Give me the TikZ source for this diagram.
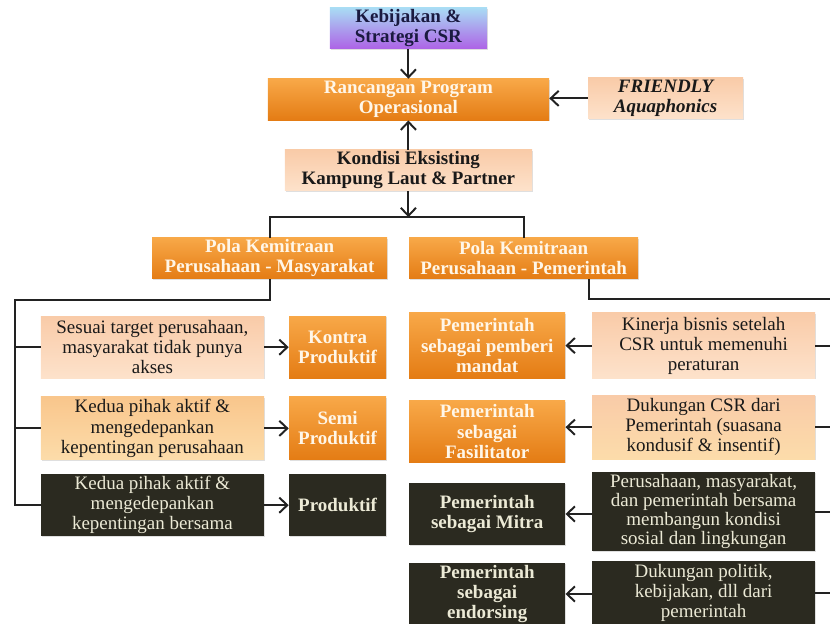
\documentclass[tikz,border=0pt]{standalone}
\usepackage{fontspec}
\setmainfont{Liberation Serif}
\usetikzlibrary{arrows.meta,positioning,shadows}
\definecolor{kebTop}{HTML}{A9DCF4}
\definecolor{kebBot}{HTML}{AD62E6}
\definecolor{navyText}{HTML}{1A1A40}
\definecolor{orTop}{HTML}{F8A848}
\definecolor{orBot}{HTML}{E47C14}
\definecolor{orText}{HTML}{FFF6E8}
\definecolor{peTop}{HTML}{F9CBA8}
\definecolor{peBot}{HTML}{FDE2CB}
\definecolor{ltTop}{HTML}{F9C68C}
\definecolor{ltBot}{HTML}{FCDCAA}
\definecolor{darkFill}{HTML}{2B2A20}
\definecolor{darkText}{HTML}{ECEAD6}
\definecolor{lineCol}{HTML}{222222}

\begin{document}
\begin{tikzpicture}[
    box/.style={rectangle, align=center, inner sep=1pt, minimum height=1.03cm, font=\fontsize{13.5}{14.3}\selectfont, drop shadow={opacity=0.25, shadow xshift=0.7pt, shadow yshift=-0.9pt}},
    orangebox/.style={box, top color=orTop, bottom color=orBot, text=orText, font=\fontsize{13.5}{14.3}\selectfont\bfseries},
    peachbox/.style={box, top color=peTop, bottom color=peBot, text=black!90},
    lightbox/.style={box, top color=ltTop, bottom color=ltBot, text=black!90},
    darkbox/.style={box, fill=darkFill, text=darkText},
    arrow/.style={-{Straight Barb[length=2mm, width=3.8mm]}, line width=1.4pt, draw=lineCol},
    link/.style={line width=1.4pt, draw=lineCol}
]
\useasboundingbox (0,0) rectangle (20.75,-15.6);
\clip (0,0) rectangle (20.75,-15.6);

% top part
\node[box, top color=kebTop, bottom color=kebBot, text=navyText, font=\fontsize{13.5}{14.3}\selectfont\bfseries, minimum width=3.93cm] (kebijakan) at (10.21,-0.71) {Kebijakan \&\\Strategi CSR};
\node[orangebox, minimum width=7.03cm] (rancangan) at (10.21,-2.49) {Rancangan Program\\Operasional};
\node[peachbox, minimum width=3.88cm, font=\fontsize{13.5}{14.3}\selectfont\bfseries\itshape] (friendly) at (16.64,-2.46) {FRIENDLY\\Aquaphonics};
\node[peachbox, minimum width=6.18cm, font=\fontsize{13.5}{14.3}\selectfont\bfseries] (kondisi) at (10.21,-4.26) {Kondisi Eksisting\\Kampung Laut \& Partner};

\node[orangebox, minimum width=5.88cm] (polaM) at (6.74,-6.46) {Pola Kemitraan\\Perusahaan - Masyarakat};
\node[orangebox, minimum width=5.73cm] (polaP) at (13.09,-6.46) {Pola Kemitraan\\Perusahaan - Pemerintah};

% masyarakat side
\node[peachbox, minimum width=5.58cm, minimum height=1.55cm] (sesuai) at (3.81,-8.68) {Sesuai target perusahaan,\\masyarakat tidak punya\\akses};
\node[lightbox, minimum width=5.58cm, minimum height=1.57cm] (kedua1) at (3.81,-10.71) {Kedua pihak aktif \&\\mengedepankan\\kepentingan perusahaan};
\node[darkbox, minimum width=5.58cm, minimum height=1.55cm] (kedua2) at (3.81,-12.63) {Kedua pihak aktif \&\\mengedepankan\\kepentingan bersama};
\node[orangebox, minimum width=2.43cm, minimum height=1.55cm] (kontra) at (8.44,-8.68) {Kontra\\Produktif};
\node[orangebox, minimum width=2.43cm, minimum height=1.57cm] (semi) at (8.44,-10.71) {Semi\\Produktif};
\node[darkbox, minimum width=2.43cm, minimum height=1.55cm, font=\fontsize{13.5}{14.3}\selectfont\bfseries] (produktif) at (8.44,-12.63) {Produktif};

% pemerintah side
\node[orangebox, minimum width=3.9cm, minimum height=1.63cm] (mandat) at (12.18,-8.64) {Pemerintah\\sebagai pemberi\\mandat};
\node[orangebox, minimum width=3.9cm, minimum height=1.53cm] (fasilitator) at (12.18,-10.79) {Pemerintah\\sebagai\\Fasilitator};
\node[darkbox, minimum width=3.9cm, minimum height=1.55cm, font=\fontsize{13.5}{14.3}\selectfont\bfseries] (mitra) at (12.18,-12.85) {Pemerintah\\sebagai Mitra};
\node[darkbox, minimum width=3.9cm, minimum height=1.55cm, font=\fontsize{13.5}{14.3}\selectfont\bfseries] (endorsing) at (12.18,-14.85) {Pemerintah\\sebagai\\endorsing};
\node[peachbox, minimum width=5.58cm, minimum height=1.63cm] (kinerja) at (17.59,-8.64) {Kinerja bisnis setelah\\CSR untuk memenuhi\\peraturan};
\node[peachbox, minimum width=5.58cm, minimum height=1.6cm, bottom color=ltBot] (dukungan) at (17.59,-10.68) {Dukungan CSR dari\\Pemerintah (suasana\\kondusif \& insentif)};
\node[darkbox, minimum width=5.58cm, minimum height=1.98cm, font=\fontsize{13.5}{13.6}\selectfont] (bersama) at (17.59,-12.79) {Perusahaan, masyarakat,\\dan pemerintah bersama\\membangun kondisi\\sosial dan lingkungan};
\node[darkbox, minimum width=5.58cm, minimum height=1.6cm] (politik) at (17.59,-14.83) {Dukungan politik,\\kebijakan, dll dari\\pemerintah};

% connectors at the top
\draw[arrow] (kebijakan) -- (rancangan);
\draw[arrow] (kondisi) -- (rancangan);
\draw[arrow] (friendly.west) -- (friendly.west -| rancangan.east);
\coordinate (split) at (10.21,-5.43);
\draw[arrow] (kondisi) -- (split);
\draw[link] (polaM.north) |- (split) -| (polaP.north);

% left bus
\coordinate (leftbus) at (0.375,-7.5);
\draw[link] (polaM.south) |- (leftbus) |- (kedua2.west);
\draw[link] (leftbus |- sesuai.west) -- (sesuai.west);
\draw[link] (leftbus |- kedua1.west) -- (kedua1.west);
\draw[arrow] (sesuai) -- (kontra);
\draw[arrow] (kedua1) -- (semi);
\draw[arrow] (kedua2) -- (produktif);

% right bus
\coordinate (rightbus) at (20.95,-7.48);
\draw[link] ([xshift=1.64cm]polaP.south) |- (rightbus) -- (rightbus |- politik.east);
\draw[link] (kinerja.east) -- (kinerja.east -| rightbus);
\draw[link] (dukungan.east) -- (dukungan.east -| rightbus);
\draw[link] (bersama.east) -- (bersama.east -| rightbus);
\draw[link] (politik.east) -- (politik.east -| rightbus);
\draw[arrow] (kinerja) -- (mandat);
\draw[arrow] (dukungan.west) -- (dukungan.west -| fasilitator.east);
\draw[arrow] (bersama.west |- mitra.east) -- (mitra.east);
\draw[arrow] (politik.west |- endorsing.east) -- (endorsing.east);
\end{tikzpicture}
\end{document}
